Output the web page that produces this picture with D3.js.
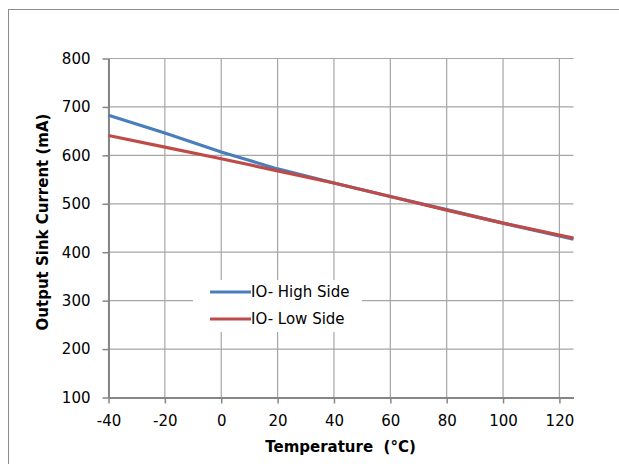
<!DOCTYPE html>
<html><head><meta charset="utf-8">
<script src="https://cdn.jsdelivr.net/npm/d3@7"></script>
<style>body{margin:0;background:#fff;}svg{display:block;font-family:"DejaVu Sans",sans-serif;}</style>
</head><body><svg id="c" width="619" height="464"></svg>
<script>
const temps = [-40, -20, 0, 20, 40, 60, 80, 100, 125];
const highSide = [683, 646, 607, 572, 543, 515, 488, 460, 427];
const lowSide = [641, 617, 593, 568, 543, 515, 487, 460, 429];
const xTicks = [-40, -20, 0, 20, 40, 60, 80, 100, 120];
const yTicks = [100, 200, 300, 400, 500, 600, 700, 800];
const seriesNames = ["IO- High Side", "IO- Low Side"];
const colors = ["#4a7ebb", "#be4b48"];

const svg = d3.select("#c");
svg.append("rect").attr("x", 8.5).attr("y", 9.5).attr("width", 640).attr("height", 500)
  .attr("fill", "none").attr("stroke", "#8c8c8c").attr("stroke-width", 1);

const x = d3.scaleLinear().domain([-40, 125]).range([108.5, 573.5]);
const y = d3.scaleLinear().domain([100, 800]).range([397.5, 58.5]);

const g = svg.append("g");
g.selectAll(".hg").data(yTicks).join("line")
  .attr("x1", x(-40)).attr("x2", x(125)).attr("y1", d => y(d)).attr("y2", d => y(d))
  .attr("stroke", "#a6a6a6").attr("stroke-width", 1.2);
g.selectAll(".vg").data(xTicks).join("line")
  .attr("x1", d => x(d)).attr("x2", d => x(d)).attr("y1", y(100)).attr("y2", y(800))
  .attr("stroke", "#a6a6a6").attr("stroke-width", 1.2);

const fmt = d => String(d);
const xAxis = d3.axisBottom(x).tickValues(xTicks).tickFormat(fmt).tickSize(6).tickSizeOuter(0).tickPadding(11.5);
const yAxis = d3.axisLeft(y).tickValues(yTicks).tickFormat(fmt).tickSize(6).tickSizeOuter(0).tickPadding(12);
const gx = svg.append("g").attr("transform", `translate(0,${y(100)})`).call(xAxis);
const gy = svg.append("g").attr("transform", `translate(${x(-40)},0)`).call(yAxis);
[gx, gy].forEach(a => {
  a.attr("font-size", 15).attr("font-family", "'DejaVu Sans', sans-serif");
  a.select(".domain").attr("stroke", "#868686").attr("stroke-width", 2);
  a.selectAll(".tick line").attr("stroke", "#868686").attr("stroke-width", 1.5);
  a.selectAll(".tick text").attr("fill", "#000");
});

const data = [highSide, lowSide];
const line = d3.line().x((d, i) => x(temps[i])).y(d => y(d));
svg.selectAll(".series").data(data).join("path")
  .attr("d", d => line(d)).attr("fill", "none")
  .attr("stroke", (d, i) => colors[i]).attr("stroke-width", 3.2);

const lg = svg.append("g");
lg.append("rect").attr("x", 193).attr("y", 280).attr("width", 169).attr("height", 52).attr("fill", "#fff");
seriesNames.forEach((n, i) => {
  const yy = 292 + i * 27;
  lg.append("line").attr("x1", 210).attr("x2", 251).attr("y1", yy).attr("y2", yy)
    .attr("stroke", colors[i]).attr("stroke-width", 3.2);
  lg.append("text").attr("x", 251).attr("y", yy).attr("dy", "0.36em")
    .style("font-size", "15px").text(n);
});

svg.append("text").attr("x", 340.5).attr("y", 447).attr("dy", "0.36em").attr("text-anchor", "middle")
  .style("font-size", "15px").style("font-weight", "bold").style("white-space", "pre")
  .text("Temperature  (°C)");
svg.append("text").attr("transform", "translate(43,222) rotate(-90)").attr("dy", "0.36em")
  .attr("text-anchor", "middle").style("font-size", "15px").style("font-weight", "bold")
  .text("Output Sink Current (mA)");
</script></body></html>
